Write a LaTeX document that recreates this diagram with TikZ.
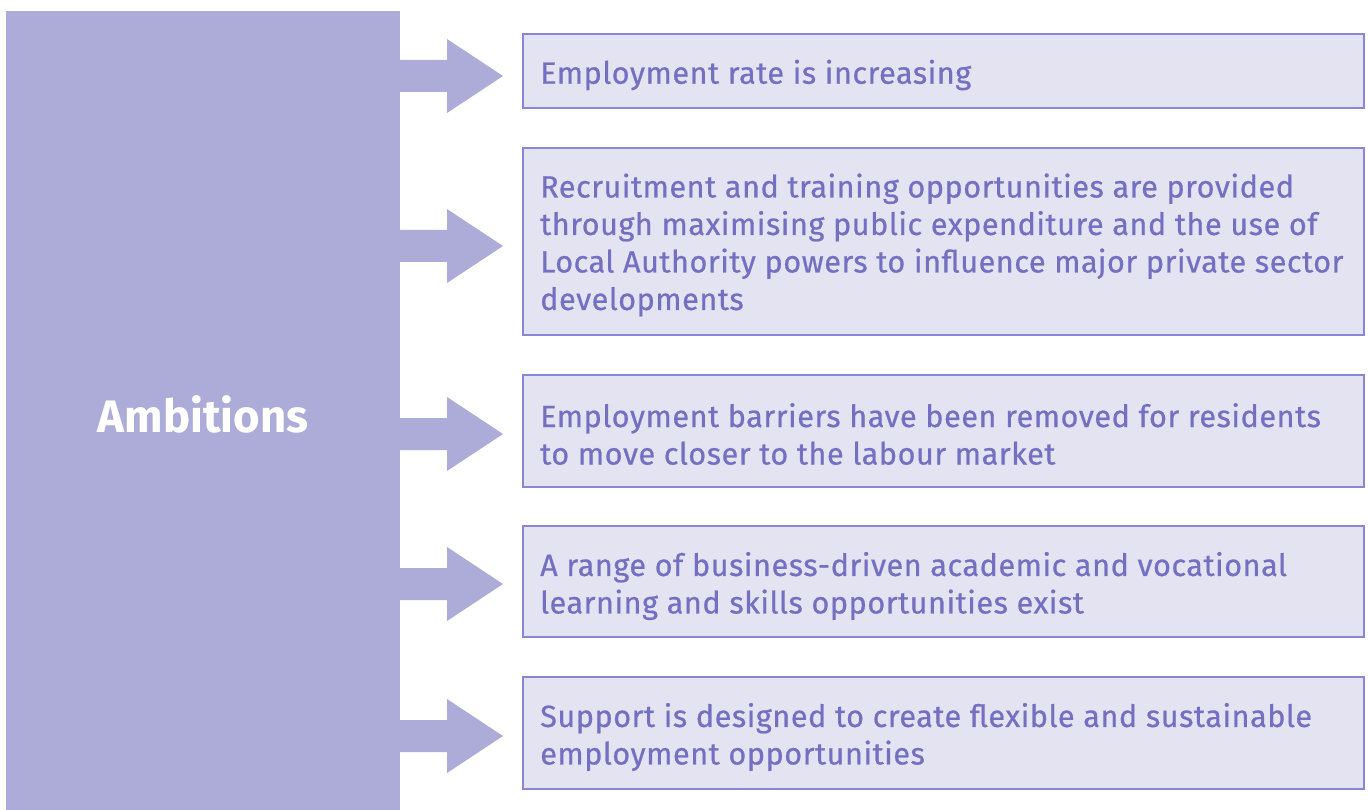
\documentclass[tikz,border=0pt]{standalone}
\usepackage{fontspec}
\setmainfont{Fira Sans}
\newfontfamily\boxfont[LetterSpace=1.6,FakeBold=0.6]{Fira Sans}
\definecolor{barc}{HTML}{ADACD9}
\definecolor{boxfill}{HTML}{E4E3F2}
\definecolor{boxline}{HTML}{8A86D6}
\definecolor{txtc}{HTML}{7370C2}
\begin{document}
\begin{tikzpicture}[x=1pt,y=-1pt,
  bar/.style={fill=barc,draw=none},
  box/.style={fill=boxfill,draw=boxline,line width=1.5pt},
  boxtext/.style={anchor=west,inner sep=0pt,align=left,text=txtc,font=\boxfont\fontsize{30.7}{37.5}\selectfont},
  arrowshape/.style={fill=barc,draw=none}]
\useasboundingbox (0,0) rectangle (1368,810);
\fill[white] (0,0) rectangle (1368,810);
\fill[bar] (6,11) rectangle (400,810);
\node[text=white,font=\fontsize{45.5}{50}\selectfont\bfseries] (amb) at (203,414) {Ambitions};
% arrows
\foreach \c in {76,246,434,584,736}{
  \fill[arrowshape] (399,\c-16) -- (447,\c-16) -- (447,\c-37) -- (503,\c) -- (447,\c+37) -- (447,\c+16) -- (399,\c+16) -- cycle;
}
% boxes
\draw[box] (523,34) rectangle (1364,108);
\draw[box] (523,148) rectangle (1364,335);
\draw[box] (523,375) rectangle (1364,487);
\draw[box] (523,526) rectangle (1364,637);
\draw[box] (523,677) rectangle (1364,789);
\node[boxtext] (t1) at (540,75) {Employment rate is increasing};
\node[boxtext] (t2) at (540,245) {Recruitment and training opportunities are provided\\through maximising public expenditure and the use of\\Local Authority powers to influence major private sector\\developments};
\node[boxtext] (t3) at (540,434) {Employment barriers have been removed for residents\\to move closer to the labour market};
\node[boxtext] (t4) at (540,586) {A range of business-driven academic and vocational\\learning and skills opportunities exist};
\node[boxtext] (t5) at (540,737) {Support is designed to create flexible and sustainable\\employment opportunities};
\end{tikzpicture}
\end{document}
